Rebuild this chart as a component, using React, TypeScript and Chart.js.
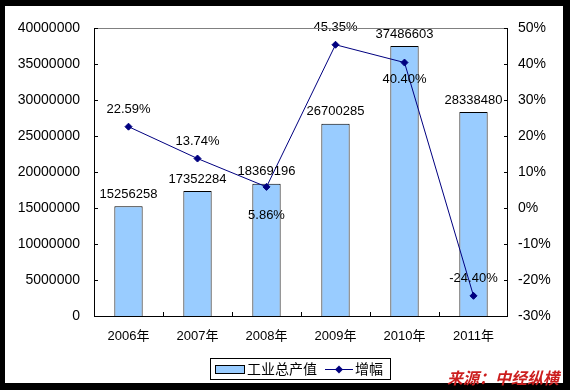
import React, { useEffect, useRef } from "react";
import { Chart, registerables } from "chart.js";

Chart.register(...registerables);

const categories = ["2006年", "2007年", "2008年", "2009年", "2010年", "2011年"];
const outputValues = [15256258, 17352284, 18369196, 26700285, 37486603, 28338480];
const growthValues = [22.59, 13.74, 5.86, 45.35, 40.4, -24.4];
const growthLabels = ["22.59%", "13.74%", "5.86%", "45.35%", "40.40%", "-24.40%"];
const growthLabelPlacement = ["above", "above", "lower", "above", "below", "above"];
const barSeriesName = "工业总产值";
const lineSeriesName = "增幅";
const sourceText = "来源：中经纵横";

const LATIN = '"Liberation Sans", Arial, "Noto Sans CJK SC", sans-serif';
const CJK = '"Noto Sans CJK SC", "Liberation Sans", sans-serif';

const BAR_FILL = "#99CCFF";
const LINE_COLOR = "#000080";

const decorPlugin = {
  id: "decor",
  beforeDraw(chart: any) {
    const ctx = chart.ctx;
    ctx.save();
    ctx.fillStyle = "#000";
    ctx.fillRect(0, 0, chart.width, chart.height);
    ctx.fillStyle = "#fff";
    ctx.fillRect(5, 6, 558, 377);
    ctx.restore();
  },
  afterDraw(chart: any) {
    const ctx = chart.ctx;
    const a = chart.chartArea;
    const y = chart.scales.y;
    const y1 = chart.scales.y1;
    const x = chart.scales.x;
    ctx.save();
    ctx.lineWidth = 1;
    // top border gray
    ctx.strokeStyle = "#808080";
    ctx.beginPath();
    ctx.moveTo(a.left, a.top + 0.5);
    ctx.lineTo(a.right, a.top + 0.5);
    ctx.stroke();
    // axes
    ctx.strokeStyle = "#000";
    ctx.beginPath();
    ctx.moveTo(a.left + 0.5, a.top);
    ctx.lineTo(a.left + 0.5, a.bottom + 0.5);
    ctx.lineTo(a.right - 0.5, a.bottom + 0.5);
    ctx.lineTo(a.right - 0.5, a.top);
    ctx.stroke();
    // ticks
    ctx.beginPath();
    y.ticks.forEach((t: any) => {
      const py = Math.round(y.getPixelForValue(t.value)) + 0.5;
      ctx.moveTo(a.left, py);
      ctx.lineTo(a.left + 4, py);
    });
    y1.ticks.forEach((t: any) => {
      const py = Math.round(y1.getPixelForValue(t.value)) + 0.5;
      ctx.moveTo(a.right, py);
      ctx.lineTo(a.right - 4, py);
    });
    for (let i = 1; i < categories.length; i++) {
      const px = Math.round((x.getPixelForValue(i - 1) + x.getPixelForValue(i)) / 2) + 0.5;
      ctx.moveTo(px, a.bottom);
      ctx.lineTo(px, a.bottom - 4);
    }
    ctx.stroke();

    // legend
    const lx = 210, ly = 358, lw = 180, lh = 21;
    ctx.strokeStyle = "#000";
    ctx.strokeRect(lx + 0.5, ly + 0.5, lw, lh);
    ctx.fillStyle = BAR_FILL;
    ctx.fillRect(215, 365, 29, 8);
    ctx.strokeRect(215.5, 365.5, 29, 8);
    ctx.fillStyle = "#000";
    ctx.font = `14px ${CJK}`;
    ctx.textBaseline = "middle";
    ctx.textAlign = "left";
    ctx.fillText(barSeriesName, 247, 369);
    ctx.strokeStyle = LINE_COLOR;
    ctx.beginPath();
    ctx.moveTo(325, 369.5);
    ctx.lineTo(353, 369.5);
    ctx.stroke();
    ctx.fillStyle = LINE_COLOR;
    ctx.beginPath();
    ctx.moveTo(339, 365.5);
    ctx.lineTo(343, 369.5);
    ctx.lineTo(339, 373.5);
    ctx.lineTo(335, 369.5);
    ctx.closePath();
    ctx.fill();
    ctx.fillStyle = "#000";
    ctx.fillText(lineSeriesName, 355, 369);

    // source
    ctx.font = `italic bold 16px ${CJK}`;
    ctx.fillStyle = "#cc1f1f";
    ctx.textAlign = "left";
    ctx.fillText(sourceText, 447, 378);
    ctx.restore();
  },
  afterDatasetsDraw(chart: any) {
    const ctx = chart.ctx;
    ctx.save();
    ctx.fillStyle = "#000";
    ctx.font = `13px ${LATIN}`;
    ctx.textAlign = "center";
    ctx.textBaseline = "middle";
    const barMeta = chart.getDatasetMeta(0);
    barMeta.data.forEach((el: any, i: number) => {
      ctx.fillText(String(outputValues[i]), el.x, el.y - 12);
    });
    const lineMeta = chart.getDatasetMeta(1);
    lineMeta.data.forEach((el: any, i: number) => {
      const p = growthLabelPlacement[i];
      const dy = p === "above" ? -17 : p === "below" ? 17 : 29;
      ctx.fillText(growthLabels[i], el.x, el.y + dy);
    });
    ctx.restore();
  },
};

export default function App() {
  const ref = useRef<HTMLCanvasElement | null>(null);
  useEffect(() => {
    document.body.style.margin = "0";
    const chart = new Chart(ref.current as HTMLCanvasElement, {
      type: "bar",
      data: {
        labels: categories,
        datasets: [
          {
            type: "bar",
            label: barSeriesName,
            data: outputValues,
            backgroundColor: BAR_FILL,
            borderColor: "#000",
            borderWidth: 1,
            yAxisID: "y",
            categoryPercentage: 1,
            barPercentage: 0.41,
            order: 2,
          },
          {
            type: "line",
            label: lineSeriesName,
            data: growthValues,
            borderColor: LINE_COLOR,
            backgroundColor: LINE_COLOR,
            borderWidth: 1,
            pointStyle: "rectRot",
            pointRadius: 3.5,
            pointBackgroundColor: LINE_COLOR,
            pointBorderColor: LINE_COLOR,
            yAxisID: "y1",
            order: 1,
          } as any,
        ],
      },
      options: {
        responsive: false,
        animation: false,
        devicePixelRatio: 1,
        layout: { padding: { top: 28, left: 0, right: 0, bottom: 0 } },
        plugins: { legend: { display: false }, tooltip: { enabled: false } },
        scales: {
          x: {
            grid: { display: false, drawTicks: false },
            border: { display: false },
            ticks: { color: "#000", font: { size: 13, family: LATIN }, padding: 13, maxRotation: 0 },
            afterFit: (s: any) => { s.height = 74; },
          },
          y: {
            position: "left",
            min: 0,
            max: 40000000,
            grid: { display: false, drawTicks: false },
            border: { display: false },
            ticks: {
              stepSize: 5000000,
              color: "#000",
              font: { size: 14, family: LATIN },
              padding: 14,
              callback: (v: any) => String(v),
            },
            afterFit: (s: any) => { s.width = 94; },
          },
          y1: {
            position: "right",
            min: -30,
            max: 50,
            grid: { display: false, drawTicks: false },
            border: { display: false },
            ticks: {
              stepSize: 10,
              color: "#000",
              font: { size: 14, family: LATIN },
              padding: 10,
              callback: (v: any) => `${v}%`,
            },
            afterFit: (s: any) => { s.width = 62; },
          },
        },
      },
      plugins: [decorPlugin],
    });
    return () => chart.destroy();
  }, []);
  return <canvas ref={ref} width={570} height={390} style={{ display: "block" }} />;
}
